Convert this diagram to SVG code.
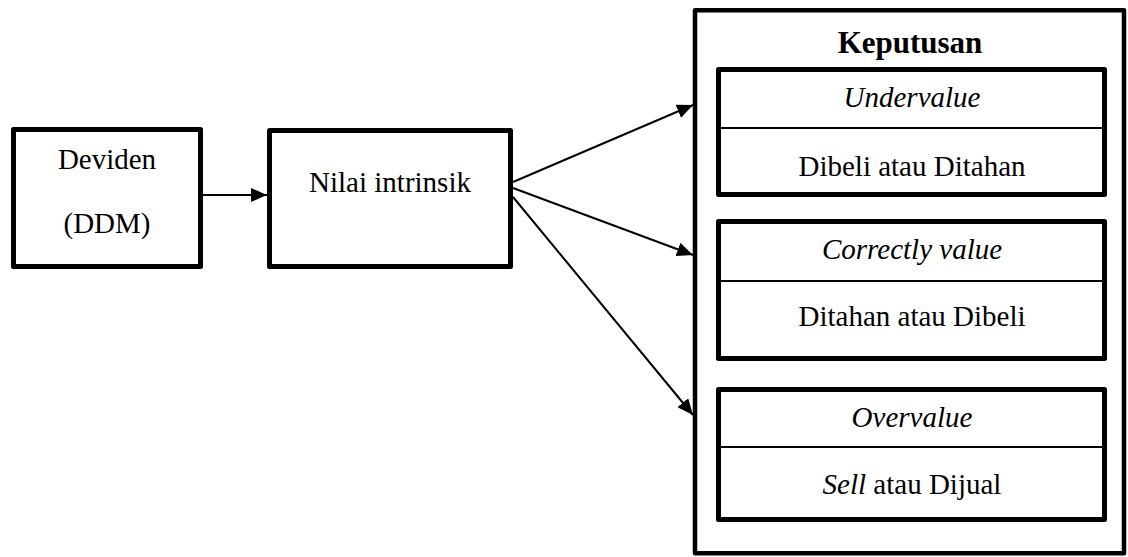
<svg xmlns="http://www.w3.org/2000/svg" width="1128" height="557" viewBox="0 0 1128 557">
  <style>
    .box { fill: #fff; stroke: #000; stroke-width: 5; stroke-linejoin: round; }
    .frame { fill: #fff; stroke: #000; stroke-width: 4.5; stroke-linejoin: round; }
    .div { stroke: #000; stroke-width: 2; }
    .txt { font-size: 29px; fill: #000; text-anchor: middle; }
    .it { font-style: italic; }
    .title { font-weight: bold; font-size: 31px; }
    .conn { stroke: #000; stroke-width: 2; fill: none; marker-end: url(#arrow); }
  </style>
  <defs>
    <marker id="arrow" markerUnits="userSpaceOnUse" markerWidth="17" markerHeight="14" refX="16" refY="7" orient="auto">
      <path d="M0,0 L16,7 L0,14 z" fill="#000"/>
    </marker>
  </defs>

  <g font-family="'Liberation Serif', Tinos, 'Times New Roman', 'DejaVu Serif', serif">
  <!-- Dividend model input -->
  <g id="deviden">
    <rect class="box" x="13.5" y="129.5" width="187" height="137"/>
    <text class="txt" x="107" y="169">Deviden</text>
    <text class="txt" x="107" y="233">(DDM)</text>
  </g>

  <!-- Intrinsic value -->
  <g id="nilai-intrinsik">
    <rect class="box" x="269.5" y="130.5" width="241" height="136"/>
    <text class="txt" x="390" y="192">Nilai intrinsik</text>
  </g>

  <!-- Decision frame with three outcomes -->
  <g id="keputusan">
    <rect class="frame" x="695" y="10.3" width="429" height="543"/>
    <text class="txt title" x="910" y="53">Keputusan</text>
  </g>

  <g id="undervalue">
    <rect class="box" x="718.5" y="69.5" width="386" height="125"/>
    <line class="div" x1="718.5" y1="128" x2="1104.5" y2="128"/>
    <text class="txt it" x="912" y="107">Undervalue</text>
    <text class="txt" x="912" y="176">Dibeli atau Ditahan</text>
  </g>

  <g id="correctly-value">
    <rect class="box" x="718.5" y="221.5" width="386" height="137"/>
    <line class="div" x1="718.5" y1="281" x2="1104.5" y2="281"/>
    <text class="txt it" x="912" y="259">Correctly value</text>
    <text class="txt" x="912" y="326">Ditahan atau Dibeli</text>
  </g>

  <g id="overvalue">
    <rect class="box" x="718.5" y="389.5" width="386" height="130"/>
    <line class="div" x1="718.5" y1="447" x2="1104.5" y2="447"/>
    <text class="txt it" x="912" y="427">Overvalue</text>
    <text class="txt" x="912" y="494"><tspan class="it">Sell</tspan> atau Dijual</text>
  </g>
  </g>

  <!-- Connectors -->
  <g id="connectors">
    <line class="conn" x1="203" y1="195" x2="267" y2="195"/>
    <line class="conn" x1="513" y1="182" x2="693" y2="105"/>
    <line class="conn" x1="513" y1="188" x2="693" y2="255"/>
    <line class="conn" x1="513" y1="197" x2="693" y2="415"/>
  </g>
</svg>
